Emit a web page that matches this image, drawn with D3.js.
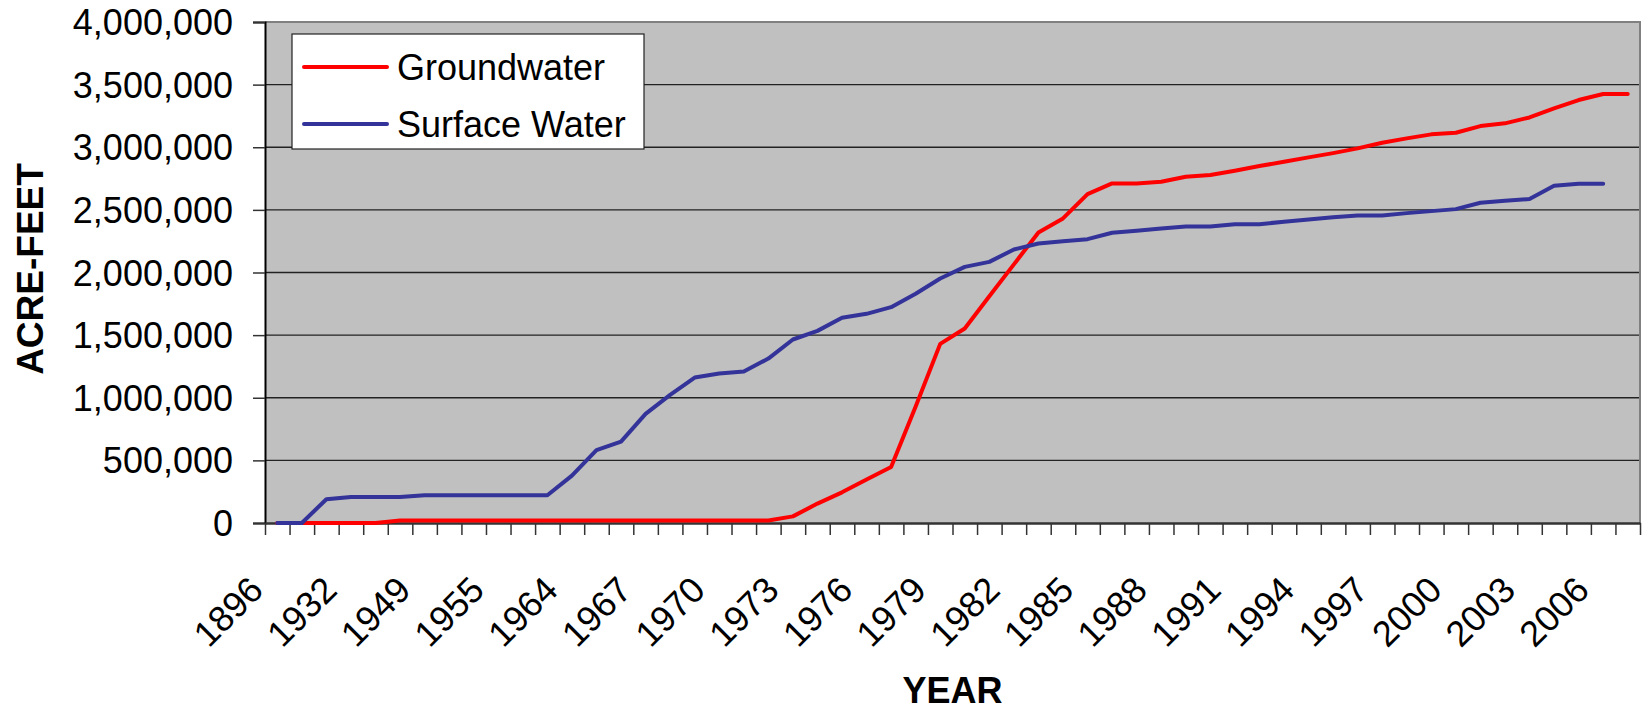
<!DOCTYPE html>
<html>
<head>
<meta charset="utf-8">
<script src="https://cdn.jsdelivr.net/npm/d3@7/dist/d3.min.js"></script>
<style>
    body { margin: 0; background: #fff; }
    svg text { font-family: "Liberation Sans", Arial, sans-serif; fill: #000; }
</style>
</head>
<body>
<svg id="chart" width="1648" height="712"></svg>
<script>
// categories: one per survey year, only every third one gets a label
var years = [1896, 1905, 1920, 1932, 1939, 1944, 1949, 1951, 1953, 1955, 1958, 1961,
    1964, 1965, 1966, 1967, 1968, 1969, 1970, 1971, 1972, 1973, 1974, 1975, 1976, 1977,
    1978, 1979, 1980, 1981, 1982, 1983, 1984, 1985, 1986, 1987, 1988, 1989, 1990, 1991,
    1992, 1993, 1994, 1995, 1996, 1997, 1998, 1999, 2000, 2001, 2002, 2003, 2004, 2005,
    2006, 2007];

var groundwater = [0, 0, 0, 0, 0, 20000, 20000, 20000, 20000, 20000, 20000, 20000,
    20000, 20000, 20000, 20000, 20000, 20000, 20000, 20000, 20000, 53000, 155000, 245000,
    347000, 447000, 930000, 1430000, 1553000, 1810000, 2065000, 2320000, 2432000, 2626000,
    2711000, 2711000, 2724000, 2764000, 2778000, 2812000, 2850000, 2884000, 2919000,
    2953000, 2991000, 3036000, 3071000, 3103000, 3116000, 3169000, 3191000, 3238000,
    3310000, 3377000, 3425000, 3425000];

var surfaceWater = [0, 0, 190000, 208000, 208000, 208000, 222000, 222000, 222000, 222000,
    222000, 222000, 378000, 581000, 650000, 871000, 1023000, 1161000, 1193000, 1209000,
    1313000, 1465000, 1534000, 1638000, 1670000, 1723000, 1830000, 1952000, 2045000,
    2085000, 2184000, 2232000, 2250000, 2266000, 2317000, 2333000, 2352000, 2368000,
    2368000, 2386000, 2386000, 2405000, 2424000, 2442000, 2456000, 2456000, 2474000,
    2490000, 2506000, 2557000, 2572000, 2586000, 2692000, 2708000, 2708000];

var yTicks = [0, 500000, 1000000, 1500000, 2000000, 2500000, 3000000, 3500000, 4000000];

var seriesNames = ["Groundwater", "Surface Water"];
var seriesColors = ["#ff0000", "#333399"];

var margin = {top: 22, right: 8, bottom: 189, left: 265};
var width = 1648 - margin.left - margin.right;
var height = 712 - margin.top - margin.bottom;

var svg = d3.select("#chart");
var g = svg.append("g").attr("transform", "translate(" + margin.left + "," + margin.top + ")");

var x = d3.scaleBand().domain(years).range([0, width]).padding(0);
var xBounds = d3.scaleLinear().domain([0, years.length]).range([0, width]);
var y = d3.scaleLinear().domain([0, 4000000]).range([height, 0]);

// plot background
g.append("rect")
        .attr("x", 0)
        .attr("y", 0)
        .attr("width", width)
        .attr("height", height)
        .attr("fill", "#c0c0c0");

// horizontal gridlines
g.append("g").selectAll("line.grid")
        .data(yTicks.slice(1, -1))
        .enter().append("line")
        .classed("grid", true)
        .attr("x1", 0)
        .attr("x2", width)
        .attr("y1", function (d) { return y(d); })
        .attr("y2", function (d) { return y(d); })
        .attr("stroke", "#222")
        .attr("stroke-width", 1.3);

// gray frame on top and right
g.append("path")
        .attr("d", "M0,0H" + width + "V" + height)
        .attr("fill", "none")
        .attr("stroke", "#808080")
        .attr("stroke-width", 2);

// y axis
var yAxis = g.append("g")
        .call(d3.axisLeft(y).tickValues(yTicks).tickSize(12).tickPadding(20)
                .tickFormat(d3.format(",")));
yAxis.select(".domain").attr("stroke", "#000").attr("stroke-width", 2);
yAxis.selectAll(".tick line").attr("stroke", "#333").attr("stroke-width", 1.5);
yAxis.selectAll(".tick text")
        .attr("font-size", 36)
        .attr("dy", "0.35em");

// x axis: tick marks sit on category boundaries
var xTickAxis = g.append("g")
        .attr("transform", "translate(0," + height + ")")
        .call(d3.axisBottom(xBounds).tickValues(d3.range(years.length + 1))
                .tickSize(12).tickSizeOuter(0).tickFormat(""));
xTickAxis.select(".domain").attr("stroke", "#333").attr("stroke-width", 2.5);
xTickAxis.selectAll(".tick line").attr("stroke", "#333").attr("stroke-width", 1.5);

// x labels: every third category, rotated
var xLabelAxis = g.append("g")
        .attr("transform", "translate(0," + height + ")")
        .call(d3.axisBottom(x).tickSize(0)
                .tickValues(years.filter(function (d, i) { return i % 3 === 0; })));
xLabelAxis.select(".domain").remove();
xLabelAxis.selectAll(".tick text")
        .attr("font-size", 36)
        .attr("x", 0)
        .attr("y", 0)
        .attr("dy", 0)
        .attr("text-anchor", "end")
        .attr("transform", "translate(-12,69) rotate(-45)");

// series
var series = [groundwater, surfaceWater];
var line = d3.line()
        .x(function (d, i) { return x(years[i]) + x.bandwidth() / 2; })
        .y(function (d) { return y(d); });

series.forEach(function (s, k) {
    g.append("path")
            .datum(s)
            .attr("d", line)
            .attr("fill", "none")
            .attr("stroke", seriesColors[k])
            .attr("stroke-width", 4)
            .attr("stroke-linejoin", "round")
            .attr("stroke-linecap", "round");
});

// legend
var legend = svg.append("g").attr("transform", "translate(292,34)");
legend.append("rect")
        .attr("x", 0)
        .attr("y", 0)
        .attr("width", 352)
        .attr("height", 115)
        .attr("fill", "#fff")
        .attr("stroke", "#222")
        .attr("stroke-width", 1.2);
seriesNames.forEach(function (name, k) {
    var ly = 33 + k * 57;
    legend.append("line")
            .attr("x1", 12)
            .attr("x2", 95)
            .attr("y1", ly)
            .attr("y2", ly)
            .attr("stroke", seriesColors[k])
            .attr("stroke-width", 4)
            .attr("stroke-linecap", "round");
    legend.append("text")
            .attr("x", 105)
            .attr("y", ly)
            .attr("dy", "0.35em")
            .attr("font-size", 36)
            .text(name);
});

// axis titles
svg.append("text")
        .attr("transform", "translate(43,269) rotate(-90)")
        .attr("text-anchor", "middle")
        .attr("font-size", 37)
        .attr("font-weight", "bold")
        .text("ACRE-FEET");

svg.append("text")
        .attr("x", margin.left + width / 2)
        .attr("y", 703)
        .attr("text-anchor", "middle")
        .attr("font-size", 36)
        .attr("font-weight", "bold")
        .text("YEAR");
</script>
</body>
</html>
